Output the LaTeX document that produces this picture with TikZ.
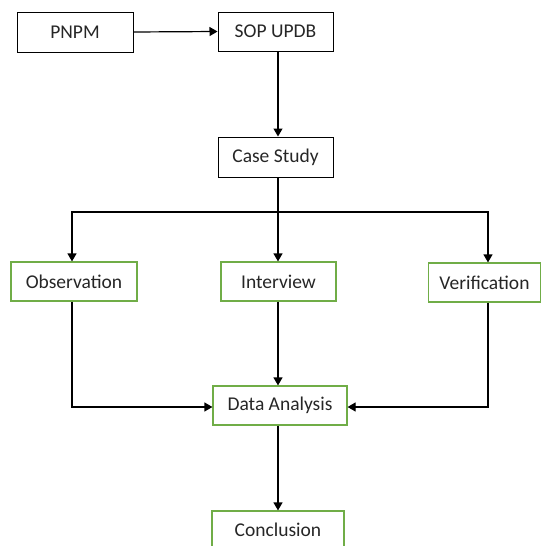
\documentclass[tikz,border=0pt]{standalone}
\usepackage{fontspec}
\setmainfont{Carlito}
\usetikzlibrary{arrows.meta}
\definecolor{boxgreen}{RGB}{112,173,71}
\begin{document}
\begin{tikzpicture}[x=1pt,y=-1pt,
  box/.style={draw=black,line width=1pt,inner sep=0pt,font=\fontsize{19.5}{22}\selectfont,text=black!85},
  gbox/.style={draw=boxgreen,line width=1.2pt,inner sep=0pt,font=\fontsize{19.5}{22}\selectfont,text=black!85},
  conn/.style={line width=1.2pt,-{Triangle[length=8pt,width=9pt]}},
  link/.style={line width=1.2pt}]
\useasboundingbox (0,0) rectangle (541,546);
\clip (0,0) rectangle (541,546);
\node[box,minimum width=116pt,minimum height=40pt] (pnpm) at (75,32) {PNPM};
\node[box,minimum width=115pt,minimum height=39pt] (sop) at (275.5,31.5) {SOP UPDB};
\node[box,minimum width=115pt,minimum height=40pt] (case) at (275.5,157) {Case Study};
\node[gbox,minimum width=126pt,minimum height=39pt] (obs) at (74,281.5) {Observation};
\node[gbox,minimum width=115pt,minimum height=39pt] (int) at (278.5,281.5) {Interview};
\node[gbox,minimum width=112pt,minimum height=39pt] (ver) at (484.5,282.5) {Verification};
\node[gbox,minimum width=134pt,minimum height=39pt] (da) at (280,405.5) {Data Analysis};
\node[gbox,minimum width=132pt,minimum height=38pt] (conc) at (278,530) {Conclusion};
\coordinate (mx) at (278,0);
\coordinate (lx) at (72,0);
\coordinate (rx) at (488,0);
\coordinate (top) at (278,212);
\coordinate (bot) at (0,407);
\draw[conn] (pnpm.east) -- (sop.west);
\draw[conn] (sop.south -| mx) -- (case.north -| mx);
\draw[link] (case.south -| mx) -- (top);
\draw[conn] (top) -| (obs.north -| lx);
\draw[conn] (top) -- (int.north -| mx);
\draw[conn] (top) -| (ver.north -| rx);
\draw[conn] (obs.south -| lx) |- (da.west |- bot);
\draw[conn] (ver.south -| rx) |- (da.east |- bot);
\draw[conn] (int.south -| mx) -- (da.north -| mx);
\draw[conn] (da.south -| mx) -- (conc.north -| mx);
\end{tikzpicture}
\end{document}
